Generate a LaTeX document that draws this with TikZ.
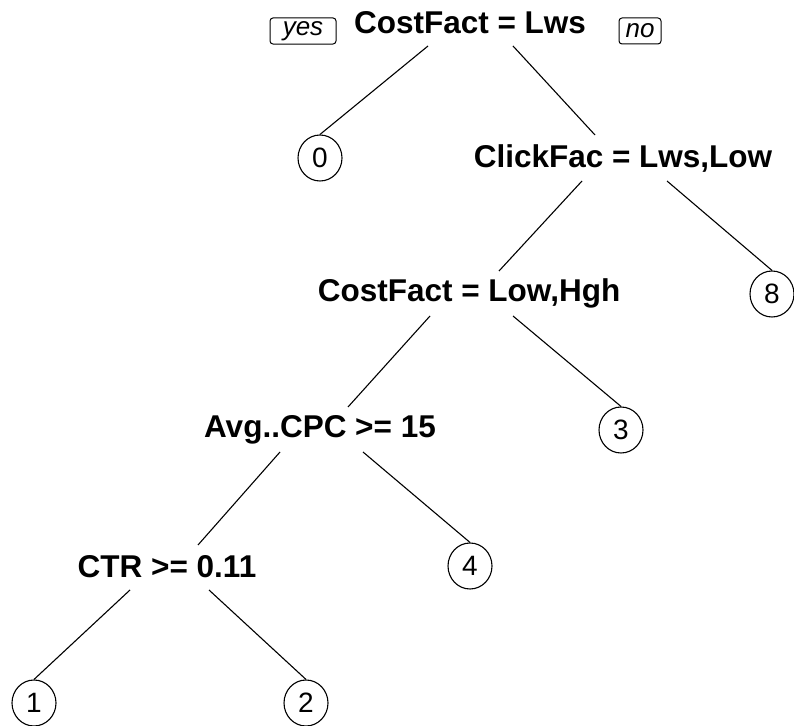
\documentclass[tikz,border=0pt]{standalone}
\usepackage{fontspec}
\setmainfont{Liberation Sans}
\usetikzlibrary{shapes.geometric}
\begin{document}
\begin{tikzpicture}[x=1pt,y=1pt,
  splitlbl/.style={anchor=base,inner sep=0pt,font=\fontsize{31.5}{32}\selectfont\bfseries},
  leaf/.style={draw,ellipse,line width=1.1pt,minimum width=44pt,minimum height=46pt,inner sep=0pt,font=\fontsize{28}{28}\selectfont},
  yn/.style={draw,rounded corners=3pt,line width=1pt,inner xsep=6pt,minimum height=26pt,font=\fontsize{26}{26}\selectfont\itshape},
  br/.style={line width=1.1pt}]
\useasboundingbox (0,0) rectangle (794,725);
% split labels
\node[splitlbl] (root) at (470,691) {CostFact = Lws};
\node[splitlbl] (cf) at (623,557) {ClickFac = Lws,Low};
\node[splitlbl] (c2) at (469,423) {CostFact = Low,Hgh};
\node[splitlbl] (avg) at (320,287) {Avg..CPC >= 15};
\node[splitlbl] (ctr) at (167,147) {CTR >= 0.11};
% yes / no
\node[yn,minimum width=66pt] (yes) at (303,694) {yes};
\node[yn,minimum width=42pt] (no) at (640,694) {no};
% leaves
\node[leaf] (n0) at (320,567) {0};
\node[leaf] (n8) at (772,431) {8};
\node[leaf] (n3) at (621,295) {3};
\node[leaf] (n4) at (470,159) {4};
\node[leaf] (n1) at (34,22) {1};
\node[leaf] (n2) at (306,22) {2};
% branches
\draw[br] ([xshift=-42pt,yshift=-12pt]root.base) -- (n0.north);
\draw[br] ([xshift=43pt,yshift=-12pt]root.base) -- ([xshift=-28pt,yshift=33pt]cf.base);
\draw[br] ([xshift=-41pt,yshift=-13pt]cf.base) -- ([xshift=30pt,yshift=31pt]c2.base);
\draw[br] ([xshift=44pt,yshift=-13pt]cf.base) -- (n8.north);
\draw[br] ([xshift=-39pt,yshift=-14pt]c2.base) -- ([xshift=28pt,yshift=31pt]avg.base);
\draw[br] ([xshift=44pt,yshift=-14pt]c2.base) -- (n3.north);
\draw[br] ([xshift=-40pt,yshift=-14pt]avg.base) -- ([xshift=31pt,yshift=33pt]ctr.base);
\draw[br] ([xshift=43pt,yshift=-14pt]avg.base) -- (n4.north);
\draw[br] ([xshift=-37pt,yshift=-12pt]ctr.base) -- (n1.north);
\draw[br] ([xshift=42pt,yshift=-12pt]ctr.base) -- (n2.north);
\end{tikzpicture}
\end{document}
